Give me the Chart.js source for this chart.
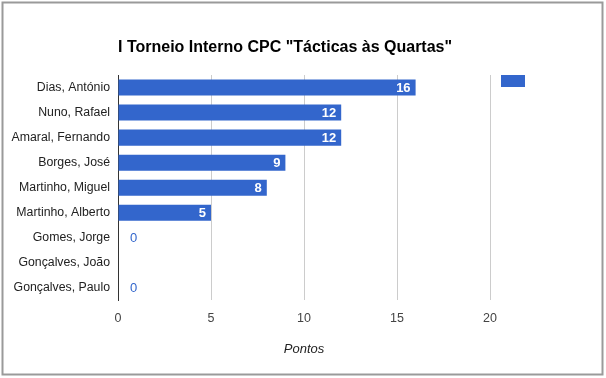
<!DOCTYPE html>
<html>
<head>
<meta charset="utf-8">
<script src="https://cdn.jsdelivr.net/npm/chart.js@4"></script>
<style>
    html, body { margin: 0; padding: 0; background: #fff; }
    #wrap { width: 606px; height: 378px; position: relative; }
</style>
</head>
<body>
<div id="wrap"><canvas id="chart" width="606" height="378"></canvas></div>
<script>
// Chart data
const chartTitle = 'I Torneio Interno CPC "Tácticas às Quartas"';
const players = ['Dias, António', 'Nuno, Rafael', 'Amaral, Fernando', 'Borges, José',
    'Martinho, Miguel', 'Martinho, Alberto', 'Gomes, Jorge', 'Gonçalves, João', 'Gonçalves, Paulo'];
const points = [16, 12, 12, 9, 8, 5, 0, null, 0];
const xTicks = [0, 5, 10, 15, 20];
const axisTitle = 'Pontos';

const BLUE = '#3366cc';
const FONT = 'Arial, "Liberation Sans", sans-serif';

// Outer frame, title and legend swatch
const frame = {
    id: 'frame',
    afterDraw(chart) {
        const ctx = chart.ctx;
        const area = chart.chartArea;
        ctx.save();
        ctx.strokeStyle = '#9a9a9a';
        ctx.lineWidth = 2;
        ctx.strokeRect(2.5, 2.5, 600, 372);

        ctx.fillStyle = '#000';
        ctx.font = 'bold 16px ' + FONT;
        ctx.textAlign = 'left';
        ctx.textBaseline = 'middle';
        ctx.fillText(chartTitle, area.left, 48);

        ctx.fillStyle = BLUE;
        ctx.fillRect(area.right + 11, area.top, 24, 12);
        ctx.restore();
    }
};

// Value labels on the bars
const valueLabels = {
    id: 'valueLabels',
    afterDatasetsDraw(chart) {
        const ctx = chart.ctx;
        const meta = chart.getDatasetMeta(0);
        ctx.save();
        ctx.textBaseline = 'middle';
        meta.data.forEach((bar, i) => {
            const v = points[i];
            if (v === null) return;
            if (v > 0) {
                ctx.font = 'bold 13px ' + FONT;
                ctx.fillStyle = '#fff';
                ctx.textAlign = 'right';
                ctx.fillText(String(v), bar.x - 5, bar.y + 1);
            } else {
                ctx.font = '13px ' + FONT;
                ctx.fillStyle = BLUE;
                ctx.textAlign = 'left';
                ctx.fillText(String(v), bar.x + 12, bar.y + 1);
            }
        });
        ctx.restore();
    }
};

new Chart(document.getElementById('chart'), {
    type: 'bar',
    data: {
        labels: players,
        datasets: [{
            label: '',
            data: points,
            backgroundColor: BLUE,
            borderWidth: 0,
            barPercentage: 0.64,
            categoryPercentage: 1
        }]
    },
    options: {
        indexAxis: 'y',
        responsive: false,
        animation: false,
        layout: { padding: { top: 75, right: 116, bottom: 4, left: 0 } },
        plugins: {
            legend: { display: false },
            title: { display: false },
            tooltip: { enabled: false }
        },
        scales: {
            x: {
                min: 0,
                max: 20,
                afterBuildTicks(scale) {
                    scale.ticks = xTicks.map(v => ({ value: v }));
                },
                grid: { color: '#cccccc', drawTicks: false },
                border: { display: false },
                ticks: {
                    padding: 11,
                    color: '#444',
                    font: { family: FONT, size: 12.5 }
                },
                title: {
                    display: true,
                    text: axisTitle,
                    color: '#222',
                    font: { family: FONT, size: 13, style: 'italic' },
                    padding: { top: 4, bottom: 17 }
                }
            },
            y: {
                afterFit(scale) { scale.width = 118; },
                grid: { display: false, drawTicks: false },
                border: { display: true, color: '#333', width: 1 },
                ticks: {
                    padding: 8,
                    color: '#222',
                    font: { family: FONT, size: 12.3 }
                }
            }
        }
    },
    plugins: [frame, valueLabels]
});
</script>
</body>
</html>
